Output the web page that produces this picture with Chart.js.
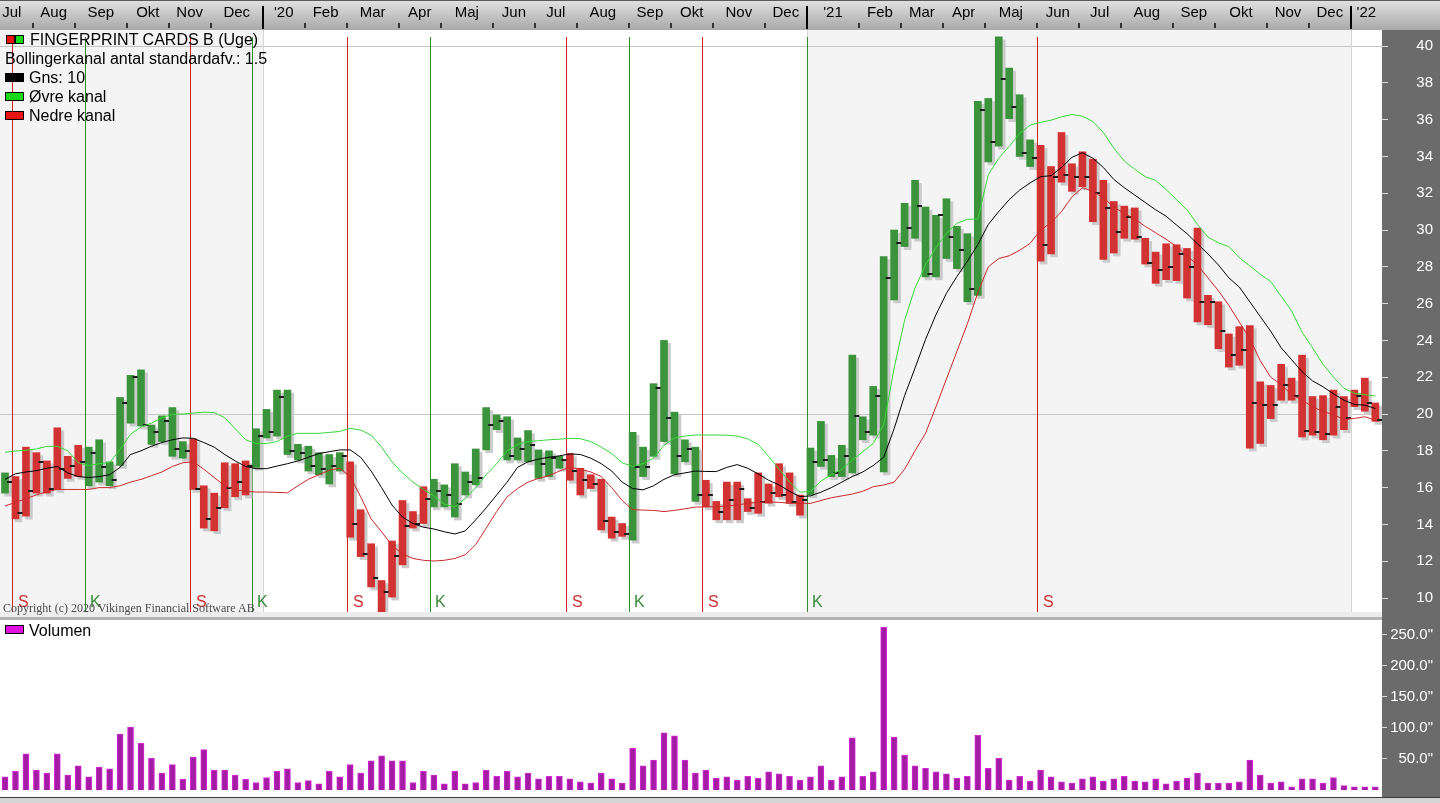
<!DOCTYPE html>
<html>
<head>
<meta charset="utf-8">
<title>FINGERPRINT CARDS B (Uge)</title>
<script src="https://cdn.jsdelivr.net/npm/chart.js@4.4.1/dist/chart.umd.min.js"></script>
<style>
  html, body { margin: 0; padding: 0; }
  body { width: 1440px; height: 803px; overflow: hidden; position: relative; background: #d9d9d9;
         font-family: 'Liberation Sans', Arial, sans-serif; }
  canvas { position: absolute; left: 0; display: block; }
  #priceChart { top: 0; }
  #volumeChart { top: 620px; }
  .gap { position: absolute; left: 0; top: 612px; width: 1382px; height: 8px;
         background: linear-gradient(#ececec 0 5px, #b4b4b4 5px 8px); }
  .gap-axis { position: absolute; left: 1382px; top: 612px; width: 58px; height: 8px; background: #6b6b6b; }
  .foot { position: absolute; left: 0; top: 797px; width: 1440px; height: 6px;
          background: linear-gradient(#3c3c3c 0 1px, #d4d4d4 1px); }
  .lg { position: absolute; font-size: 16px; line-height: 19px; color: #000; white-space: nowrap; }
  .box { position: absolute; box-sizing: border-box; border: 1px solid #000; height: 9px; }
  .copy { position: absolute; left: 3px; top: 602px; font: 12px 'Liberation Serif', 'Times New Roman', serif;
          line-height: 12px; color: #4a4a4a; white-space: nowrap; }
</style>
</head>
<body>
<canvas id="priceChart" width="1440" height="612"></canvas>
<div class="gap"></div><div class="gap-axis"></div>
<canvas id="volumeChart" width="1440" height="177"></canvas>
<div class="foot"></div>

<div class="box" style="left:6px;top:35px;width:9px;background:#e81414"></div>
<div class="box" style="left:15px;top:35px;width:9px;background:#18d818"></div>
<div class="lg" style="left:30px;top:30px">FINGERPRINT CARDS B (Uge)</div>
<div class="lg" style="left:5px;top:49px">Bollingerkanal antal standardafv.: 1.5</div>
<div class="box" style="left:5px;top:73px;width:19px;background:#000"></div>
<div class="lg" style="left:29px;top:68px">Gns: 10</div>
<div class="box" style="left:5px;top:92px;width:19px;background:#18d818"></div>
<div class="lg" style="left:29px;top:87px">Øvre kanal</div>
<div class="box" style="left:5px;top:111px;width:19px;background:#e81414"></div>
<div class="lg" style="left:29px;top:106px">Nedre kanal</div>
<div class="copy">Copyright (c) 2020 Vikingen Financial Software AB</div>
<div class="box" style="left:5px;top:625px;width:19px;background:#e010e0"></div>
<div class="lg" style="left:29px;top:621px">Volumen</div>

<script>
// weekly bars, week 0 = week of 15 Jul 2019
const highs = [
  16.8, 16.6, 18.2, 17.9, 17.45, 19.25, 17.7, 18.3, 18.2, 18.6,
  17.4, 20.9, 22.1, 22.4, 19.4, 19.9, 20.35, 18.5, 18.65, 16.1,
  15.7, 17.35, 17.3, 17.45, 19.2, 20.25, 21.3, 21.3, 18.35, 18.25,
  17.9, 17.8, 17.9, 17.4, 14.8, 12.95, 10.95, 13.1, 15.3, 14.7,
  16.05, 16.45, 16.15, 17.3, 16.85, 18.1, 20.35, 19.95, 19.85, 18.7,
  19.1, 18.05, 18.0, 17.7, 17.85, 17.05, 16.7, 16.45, 14.4, 14.05,
  19.0, 18.2, 21.65, 24.0, 20.1, 18.6, 18.2, 16.4, 15.25, 16.3,
  16.3, 15.4, 16.8, 16.2, 17.3, 16.8, 15.6, 18.15, 19.6, 17.75,
  18.3, 23.2, 19.85, 21.5, 28.55, 30.0, 31.45, 32.7, 31.25, 30.8,
  31.7, 30.2, 29.8, 37.0, 37.15, 40.5, 38.8, 37.35, 34.9, 34.6,
  33.45, 35.3, 33.6, 34.25, 33.85, 32.7, 31.55, 31.3, 31.2, 29.55,
  28.8, 29.25, 29.2, 29.0, 30.1, 26.45, 26.1, 24.35, 24.75, 24.8,
  21.75, 21.55, 22.7, 21.95, 23.2, 20.95, 21.0, 21.3, 20.95, 21.3,
  21.95, 20.6
];
const lows = [
  15.7, 14.3, 14.45, 15.7, 15.7, 15.9, 16.5, 16.6, 16.1, 16.3,
  16.1, 17.2, 19.5, 19.35, 18.35, 18.5, 17.7, 17.6, 15.9, 13.8,
  13.65, 14.9, 15.5, 15.6, 17.1, 18.7, 18.8, 17.8, 17.5, 16.9,
  16.7, 16.2, 16.9, 13.3, 12.25, 10.6, 9.2, 10.05, 11.8, 13.8,
  14.05, 14.95, 14.95, 14.4, 15.6, 16.15, 18.05, 19.15, 17.5, 17.5,
  17.4, 16.5, 16.6, 17.05, 16.4, 15.6, 15.95, 13.7, 13.25, 13.35,
  13.15, 16.6, 17.7, 18.5, 16.75, 17.4, 15.25, 14.95, 14.25, 14.25,
  14.25, 14.7, 14.6, 15.15, 15.5, 15.15, 14.5, 15.6, 17.15, 16.6,
  16.6, 16.8, 18.6, 18.85, 16.85, 26.2, 29.1, 29.55, 27.45, 27.45,
  28.45, 27.9, 26.1, 26.45, 33.7, 34.55, 36.05, 34.0, 33.45, 28.3,
  28.7, 32.6, 32.1, 32.35, 30.45, 28.4, 28.75, 29.55, 29.5, 28.15,
  27.1, 27.3, 27.25, 26.3, 25.0, 24.85, 23.55, 22.55, 22.65, 18.15,
  18.4, 19.75, 20.75, 20.75, 18.75, 18.85, 18.6, 18.85, 19.15, 20.4,
  20.15, 19.6
];
const closes = [
  16.3, 14.6, 15.8, 17.4, 15.9, 17.0, 17.2, 17.4, 17.9, 17.1,
  16.4, 20.6, 22.0, 19.4, 19.0, 19.6, 18.1, 18.0, 15.9, 14.3,
  14.9, 16.0, 16.3, 17.2, 18.8, 19.0, 20.9, 18.0, 17.9, 17.2,
  17.0, 17.2, 17.7, 14.0, 12.4, 11.1, 10.3, 12.3, 13.9, 14.0,
  15.4, 15.8, 15.6, 15.1, 16.3, 16.5, 19.4, 19.6, 17.7, 18.1,
  18.3, 17.3, 17.6, 17.5, 16.9, 16.4, 16.2, 14.2, 13.6, 13.5,
  17.1, 17.1, 21.4, 19.8, 17.7, 18.1, 15.6, 15.6, 14.7, 15.3,
  15.9, 14.9, 15.2, 15.7, 15.6, 15.2, 15.3, 17.4, 17.5, 16.8,
  17.7, 19.9, 19.0, 21.0, 27.4, 29.3, 30.1, 31.3, 27.6, 30.8,
  29.6, 28.9, 26.8, 36.5, 34.8, 38.2, 36.7, 34.2, 33.9, 29.2,
  32.9, 33.0, 32.9, 32.9, 32.0, 31.2, 29.9, 30.7, 29.6, 28.2,
  27.8, 28.0, 28.7, 28.0, 26.1, 26.1, 24.5, 23.2, 23.5, 20.6,
  20.5, 20.5, 21.6, 21.0, 19.1, 19.0, 18.9, 20.4, 19.8, 21.0,
  20.6, 19.7
];
const upperBand = [
  17.92, 17.99, 18.03, 18.1, 18.24, 18.25, 18.0, 17.35, 17.2, 17.3,
  17.36, 18.08, 18.9, 19.3, 19.5, 19.8, 19.98, 20.0, 20.05, 20.1,
  20.08, 19.8, 19.2, 18.6, 18.4, 18.4, 18.5, 18.8, 18.95, 18.95,
  18.95, 19.0, 19.05, 19.22, 19.13, 18.85, 18.2, 17.4, 16.8, 16.3,
  15.9, 15.55, 15.1, 14.96, 15.4, 16.0, 16.7, 17.3, 18.0, 18.35,
  18.5, 18.55, 18.6, 18.63, 18.68, 18.66, 18.5, 18.2, 17.85, 17.35,
  17.15, 17.3, 17.6, 18.3, 18.7, 18.8, 18.86, 18.86, 18.86, 18.85,
  18.8, 18.65, 18.35, 17.7, 17.0, 16.3, 15.75, 15.8, 16.35, 16.7,
  17.0, 17.5, 17.95, 18.4, 19.4, 22.5, 25.1, 26.85, 28.1, 29.05,
  29.82, 30.36, 30.58, 30.6, 33.0, 33.9, 34.55, 35.25, 35.7, 35.85,
  35.97, 36.15, 36.28, 36.18, 35.9, 35.3, 34.45, 33.75, 33.3, 32.9,
  32.7, 32.2, 31.65, 31.1, 30.3, 29.62, 29.3, 29.1, 28.5, 28.05,
  27.6, 27.2, 26.4, 25.6, 24.45, 23.6, 22.7, 22.0, 21.4, 21.13,
  21.05, 20.98
];
const middleBand = [
  16.45, 16.75, 16.85, 16.92, 17.05, 17.15, 16.8, 16.6, 16.55, 16.6,
  16.7, 17.1, 17.8, 18.0, 18.25, 18.45, 18.6, 18.7, 18.68, 18.45,
  18.2, 17.8, 17.45, 17.15, 17.03, 17.03, 17.17, 17.3, 17.45, 17.65,
  17.85, 17.95, 18.05, 18.05, 17.65, 16.9, 16.0, 15.05, 14.4, 14.05,
  13.85, 13.75, 13.6, 13.48, 13.65, 14.25, 14.9, 15.6, 16.3, 17.1,
  17.4, 17.55, 17.65, 17.73, 17.83, 17.8, 17.6, 17.3, 16.9, 16.3,
  15.95, 15.88, 16.1, 16.45, 16.7, 16.8, 16.9, 16.88, 16.87, 17.1,
  17.25, 17.05, 16.75, 16.4, 16.15, 15.8, 15.51, 15.55, 15.75, 16.0,
  16.3, 16.6, 16.85, 17.2, 17.65, 19.2, 21.0, 22.5, 24.05, 25.4,
  26.56, 27.47, 28.3, 29.2, 30.3, 31.0, 31.65, 32.17, 32.56, 32.9,
  32.95, 33.4, 33.95, 34.2, 33.9, 33.4, 32.75, 32.3, 31.9, 31.5,
  31.1, 30.75, 30.27, 29.8, 29.25, 28.7, 28.1, 27.4, 26.9, 26.1,
  25.3, 24.5, 23.6, 22.95, 22.3, 21.8, 21.48, 21.1, 20.75, 20.52,
  20.48, 20.3
];
const lowerBand = [
  15.0, 15.2, 15.4, 15.6, 15.78, 15.9, 15.9, 15.9, 15.9, 16.0,
  16.0, 16.1, 16.3, 16.45, 16.65, 16.85, 17.15, 17.35, 17.4, 17.0,
  16.55, 16.1, 15.88, 15.8, 15.76, 15.76, 15.74, 15.72, 16.1, 16.45,
  16.7, 16.95, 17.05, 16.6, 15.5, 14.3, 13.6, 12.85, 12.4, 12.15,
  12.05, 12.01, 12.05, 12.15, 12.35, 12.9, 13.8, 14.7, 15.5, 15.95,
  16.3, 16.5, 16.65, 16.9, 17.1, 17.0, 16.85, 16.6, 16.0, 15.3,
  14.8, 14.78, 14.76, 14.7, 14.76, 14.85, 14.94, 14.96, 14.96, 15.0,
  15.05, 15.15, 15.2, 15.22, 15.2, 15.15, 15.15, 15.14, 15.3, 15.45,
  15.55, 15.65, 15.8, 16.05, 16.14, 16.3, 17.0, 18.0, 18.95, 20.4,
  21.9, 23.4, 24.9, 26.6, 28.0, 28.45, 28.6, 28.9, 29.27, 30.0,
  30.4, 31.0, 31.8, 32.3, 32.1, 31.75, 31.25, 30.9, 30.6, 30.2,
  29.85, 29.5, 29.09, 28.6, 28.1, 27.4, 26.7, 25.9, 25.0, 24.1,
  22.9, 22.0, 21.6, 21.05, 20.75, 20.4, 20.13, 19.97, 19.7, 19.76,
  19.85, 19.67
];
// volume, millions of shares
const volume = [
  21, 30, 58, 32, 27, 58, 24, 39, 21, 37,
  34, 90, 101, 75, 51, 27, 41, 17, 53, 65,
  32, 32, 24, 17, 12, 20, 30, 34, 12, 15,
  10, 30, 21, 41, 27, 47, 55, 47, 47, 12,
  30, 24, 10, 30, 10, 12, 32, 22, 30, 21,
  27, 18, 22, 22, 18, 13, 11, 27, 18, 11,
  67, 39, 48, 92, 87, 48, 27, 32, 19, 21,
  16, 22, 19, 29, 26, 22, 16, 21, 39, 16,
  21, 84, 22, 29, 262, 85, 56, 39, 35, 29,
  26, 19, 22, 88, 35, 51, 16, 22, 14, 32,
  21, 13, 11, 18, 21, 14, 18, 22, 14, 13,
  18, 10, 14, 19, 27, 11, 11, 11, 13, 48,
  24, 11, 13, 5, 18, 18, 11, 20, 7, 5,
  5, 5
];
// signals: S = sell (red), K = buy (green)
const sellWeeks = [1, 18, 33, 54, 67, 99];
const buyWeeks = [8, 24, 41, 60, 77];
// month axis
const monthLabels = ['Jul', 'Aug', 'Sep', 'Okt', 'Nov', 'Dec', "'20", 'Feb', 'Mar', 'Apr', 'Maj', 'Jun',
  'Jul', 'Aug', 'Sep', 'Okt', 'Nov', 'Dec', "'21", 'Feb', 'Mar', 'Apr', 'Maj', 'Jun',
  'Jul', 'Aug', 'Sep', 'Okt', 'Nov', 'Dec', "'22"];
const monthStart = [-1, 3, 7, 12, 16, 20, 25, 29, 33, 38, 42, 47,
  51, 55, 60, 64, 68, 73, 77, 82, 86, 90, 94, 99,
  103, 107, 112, 116, 121, 125, 129];
const priceTicks = [10, 12, 14, 16, 18, 20, 22, 24, 26, 28, 30, 32, 34, 36, 38, 40];
const volumeTicks = [50, 100, 150, 200, 250];

const weeks = highs.map((_, i) => i);
const yearStart = monthStart.filter((_, k) => monthLabels[k].startsWith("'"));

const X_MIN = -0.48, X_MAX = 131.64;
const EDGE = 0.35;            // marks sit on the left edge of a week's bar
const RED = '#d33232', GREEN = '#3b933b';

Chart.defaults.font.family = "'Liberation Sans', Arial, sans-serif";

// green between a buy and the next sell, red otherwise
const barColors = weeks.map(i => {
  const lastSell = Math.max(-1, ...sellWeeks.filter(w => w <= i));
  const lastBuy = Math.max(-1, ...buyWeeks.filter(w => w <= i));
  return lastBuy > lastSell || (lastSell < 0 && lastBuy < 0) ? GREEN : RED;
});

// close tick: small dash to the right of the bar
const closeMark = document.createElement('canvas');
closeMark.width = 20;
closeMark.height = 2;
const cm = closeMark.getContext('2d');
cm.fillStyle = '#1c1c1c';
cm.fillRect(12, 0, 5, 2);

// right axis: fixed width, no extra padding above/below the plot
const fixRightAxis = s => {
  s.width = 51;
  s.paddingTop = 0;
  s.paddingBottom = 0;
};

const priceDecor = {
  id: 'priceDecor',
  beforeDraw(chart) {
    const { ctx, chartArea: a, scales: { x } } = chart;
    ctx.save();
    const g = ctx.createLinearGradient(0, 0, 0, a.top);
    g.addColorStop(0, '#e2e2e2');
    g.addColorStop(1, '#a8a8a8');
    ctx.fillStyle = g;
    ctx.fillRect(0, 0, chart.width, a.top);
    ctx.fillStyle = '#5a5a5a';
    ctx.fillRect(0, 0, chart.width, 1);

    const edges = [a.left, ...yearStart.map(w => x.getPixelForValue(w - EDGE)), a.right];
    for (let k = 0; k < edges.length - 1; k++) {
      ctx.fillStyle = k % 2 ? '#ffffff' : '#f4f4f4';
      ctx.fillRect(edges[k], a.top, edges[k + 1] - edges[k], a.bottom - a.top);
    }
    ctx.fillStyle = '#6b6b6b';
    ctx.fillRect(a.right, a.top, chart.width - a.right, chart.height - a.top);
    ctx.restore();
  },
  beforeDatasetsDraw(chart) {
    const { ctx, chartArea: a, scales: { x } } = chart;
    ctx.save();
    ctx.fillStyle = '#d6d6d6';
    yearStart.forEach(w => {
      ctx.fillRect(Math.round(x.getPixelForValue(w - EDGE)), a.top, 1, a.bottom - a.top);
    });
    const lines = (list, color) => list.forEach(w => {
      ctx.fillStyle = color;
      ctx.fillRect(Math.round(x.getPixelForValue(w - EDGE)), a.top + 7, 1, a.bottom - a.top - 7);
    });
    lines(sellWeeks, '#d02424');
    lines(buyWeeks, '#2f8f2f');
    ctx.restore();
  },
  afterDatasetsDraw(chart) {
    const { ctx, chartArea: a, scales: { x } } = chart;
    ctx.save();
    ctx.font = "16px 'Liberation Sans', Arial, sans-serif";
    ctx.textBaseline = 'alphabetic';
    const letters = (list, color, txt, dx) => list.forEach(w => {
      ctx.fillStyle = color;
      ctx.fillText(txt, Math.round(x.getPixelForValue(w - EDGE)) + dx, a.bottom - 5);
    });
    letters(sellWeeks, '#cc3030', 'S', 6);
    letters(buyWeeks, '#3a8a3a', 'K', 5);
    ctx.restore();
  },
  afterDraw(chart) {
    const { ctx, chartArea: a, scales: { x } } = chart;
    ctx.save();
    monthStart.forEach((w, k) => {
      const p = x.getPixelForValue(w - EDGE);
      if (p < a.left || p > a.right) return;
      const year = monthLabels[k].startsWith("'");
      ctx.fillStyle = year ? '#000000' : '#333333';
      if (year) ctx.fillRect(Math.round(p) - 1, 6, 2, a.top - 7);
      else ctx.fillRect(Math.round(p) - 1, a.top - 7, 2, 5);
    });
    ctx.restore();
  }
};

const barShadow = {
  id: 'barShadow',
  beforeDatasetDraw(chart, args) {
    if (args.meta.type !== 'bar') return;
    const ctx = chart.ctx;
    ctx.save();
    ctx.shadowColor = '#cbcbcb';
    ctx.shadowOffsetX = 3;
    ctx.shadowOffsetY = 3;
    ctx.shadowBlur = 0;
  },
  afterDatasetDraw(chart, args) {
    if (args.meta.type !== 'bar') return;
    chart.ctx.restore();
  }
};

const volumeDecor = {
  id: 'volumeDecor',
  beforeDraw(chart) {
    const { ctx, chartArea: a } = chart;
    ctx.save();
    ctx.fillStyle = '#ffffff';
    ctx.fillRect(a.left, a.top, a.right - a.left, a.bottom - a.top);
    ctx.fillStyle = '#6b6b6b';
    ctx.fillRect(a.right, 0, chart.width - a.right, chart.height);
    ctx.restore();
  }
};

new Chart(document.getElementById('priceChart'), {
  type: 'bar',
  data: {
    datasets: [
      { type: 'line', label: 'Øvre kanal', data: weeks.map(i => ({ x: i, y: upperBand[i] })),
        borderColor: '#38d838', borderWidth: 1, pointRadius: 0, order: 0 },
      { type: 'line', label: 'Gns: 10', data: weeks.map(i => ({ x: i, y: middleBand[i] })),
        borderColor: '#000000', borderWidth: 1, pointRadius: 0, order: 0 },
      { type: 'line', label: 'Nedre kanal', data: weeks.map(i => ({ x: i, y: lowerBand[i] })),
        borderColor: '#cc2a2a', borderWidth: 1, pointRadius: 0, order: 0 },
      { type: 'line', label: 'Luk', data: weeks.map(i => ({ x: i, y: closes[i] })),
        showLine: false, pointStyle: closeMark, pointRadius: 4, pointHoverRadius: 4, order: 1 },
      { type: 'bar', label: 'FINGERPRINT CARDS B (Uge)', data: weeks.map(i => ({ x: i, y: [lows[i], highs[i]] })),
        backgroundColor: barColors, borderWidth: 0, barThickness: 7, order: 2 }
    ]
  },
  options: {
    responsive: false,
    animation: false,
    layout: { autoPadding: false, padding: { left: 0, top: 0, bottom: 0, right: 7 } },
    plugins: { legend: { display: false }, tooltip: { enabled: false } },
    scales: {
      x: {
        type: 'linear', position: 'top', min: X_MIN, max: X_MAX, offset: false,
        afterBuildTicks: s => {
          s.ticks = monthLabels.map((_, k) => {
            const a = monthStart[k] - EDGE;
            const b = k + 1 < monthStart.length ? monthStart[k + 1] - EDGE : X_MAX;
            return { value: (a + b) / 2 };
          });
        },
        afterFit: s => { s.height = 30; s.paddingLeft = 0; s.paddingRight = 0; },
        grid: { display: false, drawTicks: false },
        border: { display: false },
        ticks: { autoSkip: false, maxRotation: 0, color: '#000', font: { size: 15 }, padding: 8,
                 callback: (v, i) => monthLabels[i] }
      },
      y: {
        position: 'right', min: 9.24, max: 40.87,
        afterBuildTicks: s => { s.ticks = priceTicks.map(v => ({ value: v })); },
        afterFit: fixRightAxis,
        grid: {
          color: c => (c.tick && (c.tick.value === 20 || c.tick.value === 40)) ? '#c4c4c4' : 'rgba(0,0,0,0)',
          tickColor: '#d8d8d8', tickLength: 6, lineWidth: 1
        },
        border: { display: false },
        ticks: { color: '#ffffff', font: { size: 15 }, crossAlign: 'far', padding: 4 }
      }
    }
  },
  plugins: [priceDecor, barShadow]
});

new Chart(document.getElementById('volumeChart'), {
  type: 'bar',
  data: {
    datasets: [
      { label: 'Volumen', data: weeks.map(i => ({ x: i, y: volume[i] })),
        backgroundColor: '#a41ca4', borderColor: '#d828d8', borderWidth: 1, barThickness: 6 }
    ]
  },
  options: {
    responsive: false,
    animation: false,
    layout: { autoPadding: false, padding: { left: 0, top: 0, bottom: 0, right: 7 } },
    plugins: { legend: { display: false }, tooltip: { enabled: false } },
    scales: {
      x: { type: 'linear', display: false, min: X_MIN, max: X_MAX, offset: false },
      y: {
        position: 'right', min: -11.3, max: 273.4,
        afterBuildTicks: s => { s.ticks = volumeTicks.map(v => ({ value: v })); },
        afterFit: fixRightAxis,
        grid: { drawOnChartArea: false, tickColor: '#d8d8d8', tickLength: 5 },
        border: { display: false },
        ticks: { color: '#ffffff', font: { size: 15 }, crossAlign: 'far', padding: 2,
                 callback: v => v.toFixed(1) + '"' }
      }
    }
  },
  plugins: [volumeDecor]
});
</script>
</body>
</html>
